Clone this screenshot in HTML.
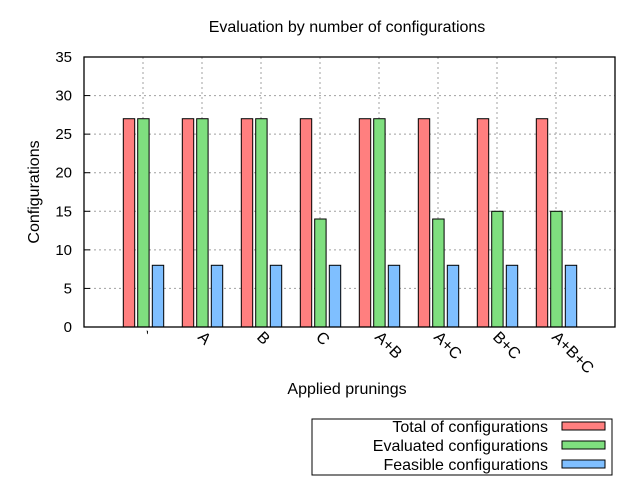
<!DOCTYPE html>
<html><head><meta charset="utf-8"><style>body{margin:0;background:#fff}svg{font-family:"Liberation Sans",sans-serif}</style></head>
<body>
<svg id="c" width="640" height="480" xmlns="http://www.w3.org/2000/svg"></svg>
<script>
const categories=["`","A","B","C","A+B","A+C","B+C","A+B+C"];
const totalVals=[27,27,27,27,27,27,27,27];
const evalVals=[27,27,27,14,27,14,15,15];
const feasVals=[8,8,8,8,8,8,8,8];
const yTicks=[0,5,10,15,20,25,30,35];
const seriesNames=["Total of configurations","Evaluated configurations","Feasible configurations"];
const colors=["#ff7f7f","#7fdf7f","#7fbfff"];
const svg=document.getElementById('c');const NS="http://www.w3.org/2000/svg";
const L=84,R=615,T=57,B=327;
const x=i=>L+(i+1)*(R-L)/9;
const y=v=>B-v*(B-T)/35;
function el(t,a,p){const e=document.createElementNS(NS,t);for(const k in a)e.setAttribute(k,a[k]);(p||svg).appendChild(e);return e;}
const grid=el('g',{});


yTicks.forEach(v=>{if(v>0&&v<35)el('line',{x1:L,x2:R,y1:y(v),y2:y(v),stroke:'#a0a0a0','stroke-dasharray':'2,3'},grid);
const t=el('text',{x:L-12,y:y(v)+5,'text-anchor':'end','font-size':15});t.textContent=v;


el('line',{x1:L,x2:L+6,y1:y(v),y2:y(v),stroke:'#000'});});
categories.forEach((c,i)=>{el('line',{x1:x(i),x2:x(i),y1:T,y2:B,stroke:'#a0a0a0','stroke-dasharray':'2,3'},grid);
const t=el('text',{x:x(i)-5,y:B+11,'font-size':16,transform:`rotate(45 ${x(i)-5} ${B+11})`});t.textContent=c;

});
const sets=[totalVals,evalVals,feasVals];const offs=[-19.7,-5.3,9.3];
sets.forEach((vals,s)=>vals.forEach((v,i)=>{const r=el('rect',{x:x(i)+offs[s],y:y(v),width:11.4,height:B-y(v),fill:colors[s],stroke:'#000','stroke-width':1});

}));
const fr=el('rect',{x:L,y:T,width:R-L,height:B-T,fill:'none',stroke:'#000','stroke-width':1.3});


const ti=el('text',{x:347,y:32,'text-anchor':'middle','font-size':16});ti.textContent="Evaluation by number of configurations";


const xt=el('text',{x:347,y:394,'text-anchor':'middle','font-size':16});xt.textContent="Applied prunings";


const yt=el('text',{x:39,y:192,'text-anchor':'middle','font-size':16,transform:'rotate(-90 39 192)'});yt.textContent="Configurations";


const lg=el('g',{});


el('rect',{x:312,y:419,width:300,height:56,fill:'none',stroke:'#000'},lg);
seriesNames.forEach((n,s)=>{const yy=426+s*19;const t=el('text',{x:548,y:yy+6,'text-anchor':'end','font-size':16},lg);t.textContent=n;


el('rect',{x:562,y:yy-4,width:43,height:8,fill:colors[s],stroke:'#000'},lg);});
</script>
</body></html>
